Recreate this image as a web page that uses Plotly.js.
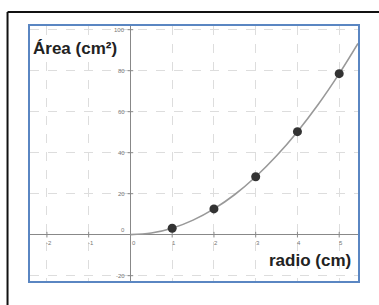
<!DOCTYPE html>
<html><head><meta charset="utf-8">
<script src="https://cdn.plot.ly/plotly-3.0.1.min.js"></script>
<style>html,body{margin:0;padding:0;background:#fff}</style>
</head><body><div id="chart" style="width:379px;height:305px"></div>
<script>
// data
var radius = [1, 2, 3, 4, 5];
var area = [3.14, 12.57, 28.27, 50.27, 78.54];
var curveX = [0, 0.5, 1, 1.5, 2, 2.5, 3, 3.5, 4, 4.5, 5, 5.45];
var curveY = [0, 0.8, 3.14, 7.1, 12.57, 19.6, 28.27, 38.5, 50.27, 63.6, 78.54, 93.3];
var xTicks = [-2, -1, 0, 1, 2, 3, 4, 5];
var yTicks = [-20, 0, 20, 40, 60, 80, 100];
var yTitle = 'Área (cm²)';
var xTitle = 'radio (cm)';

var tickFont = {family: 'Liberation Sans, Arial, sans-serif', size: 6, color: '#777'};
var annotations = [];
xTicks.forEach(function (v) {
  annotations.push({x: v, y: 0, xref: 'x', yref: 'y', text: String(v), showarrow: false,
    font: tickFont, xanchor: 'center', yanchor: 'top', xshift: v === 0 ? 4 : 2, yshift: -3});
});
yTicks.forEach(function (v) {
  annotations.push({x: 0, y: v, xref: 'x', yref: 'y', text: String(v), showarrow: false,
    font: tickFont, xanchor: 'right', yanchor: 'middle', xshift: -3, yshift: v === 0 ? 5 : 0});
});
annotations.push({x: 0.003, y: 0.91, xref: 'paper', yref: 'paper', text: '<b>' + yTitle + '</b>',
  showarrow: false, xanchor: 'left', yanchor: 'middle',
  font: {family: 'Liberation Sans, Arial, sans-serif', size: 17, color: '#222'}});
annotations.push({x: 0.985, y: 0.08, xref: 'paper', yref: 'paper', text: '<b>' + xTitle + '</b>',
  showarrow: false, xanchor: 'right', yanchor: 'middle',
  font: {family: 'Liberation Sans, Arial, sans-serif', size: 17, color: '#222'}});

var traces = [
  {x: curveX, y: curveY, mode: 'lines', line: {color: '#999', width: 1.6, shape: 'spline'}, hoverinfo: 'skip'},
  {x: xTicks.filter(function (v) { return v !== 0; }), y: xTicks.filter(function (v) { return v !== 0; }).map(function () { return 0; }),
    mode: 'markers', marker: {symbol: 'line-ns-open', size: 4, color: '#888', line: {width: 1, color: '#888'}}, hoverinfo: 'skip'},
  {x: yTicks.filter(function (v) { return v !== 0; }).map(function () { return 0; }), y: yTicks.filter(function (v) { return v !== 0; }),
    mode: 'markers', marker: {symbol: 'line-ew-open', size: 4, color: '#888', line: {width: 1, color: '#888'}}, hoverinfo: 'skip'},
  {x: radius, y: area, mode: 'markers', marker: {color: '#333', size: 9}, hoverinfo: 'skip'}
];

var layout = {
  width: 379, height: 305,
  margin: {l: 30, r: 21, t: 26, b: 24},
  paper_bgcolor: '#fff', plot_bgcolor: '#fff',
  showlegend: false,
  xaxis: {range: [-2.405, 5.45], tickvals: xTicks, showticklabels: false, ticks: '',
    showgrid: true, gridcolor: '#ddd', griddash: 'dash', gridwidth: 1,
    zeroline: true, zerolinecolor: '#888', zerolinewidth: 1.5,
    showline: true, mirror: true, linecolor: '#5a86c2', linewidth: 2, fixedrange: true},
  yaxis: {range: [-22.6, 101.8], tickvals: yTicks, showticklabels: false, ticks: '',
    showgrid: true, gridcolor: '#ddd', griddash: 'dash', gridwidth: 1,
    zeroline: true, zerolinecolor: '#888', zerolinewidth: 1.5,
    showline: true, mirror: true, linecolor: '#5a86c2', linewidth: 2, fixedrange: true},
  annotations: annotations,
  shapes: [
    {type: 'line', xref: 'paper', yref: 'paper', x0: -0.0685, x1: -0.0685, y0: 1.055, y1: -0.2, line: {color: '#111', width: 2}},
    {type: 'line', xref: 'paper', yref: 'paper', x0: -0.0685, x1: 1.2, y0: 1.055, y1: 1.055, line: {color: '#111', width: 2}}
  ]
};
Plotly.newPlot('chart', traces, layout, {displayModeBar: false, staticPlot: true});
</script></body></html>
